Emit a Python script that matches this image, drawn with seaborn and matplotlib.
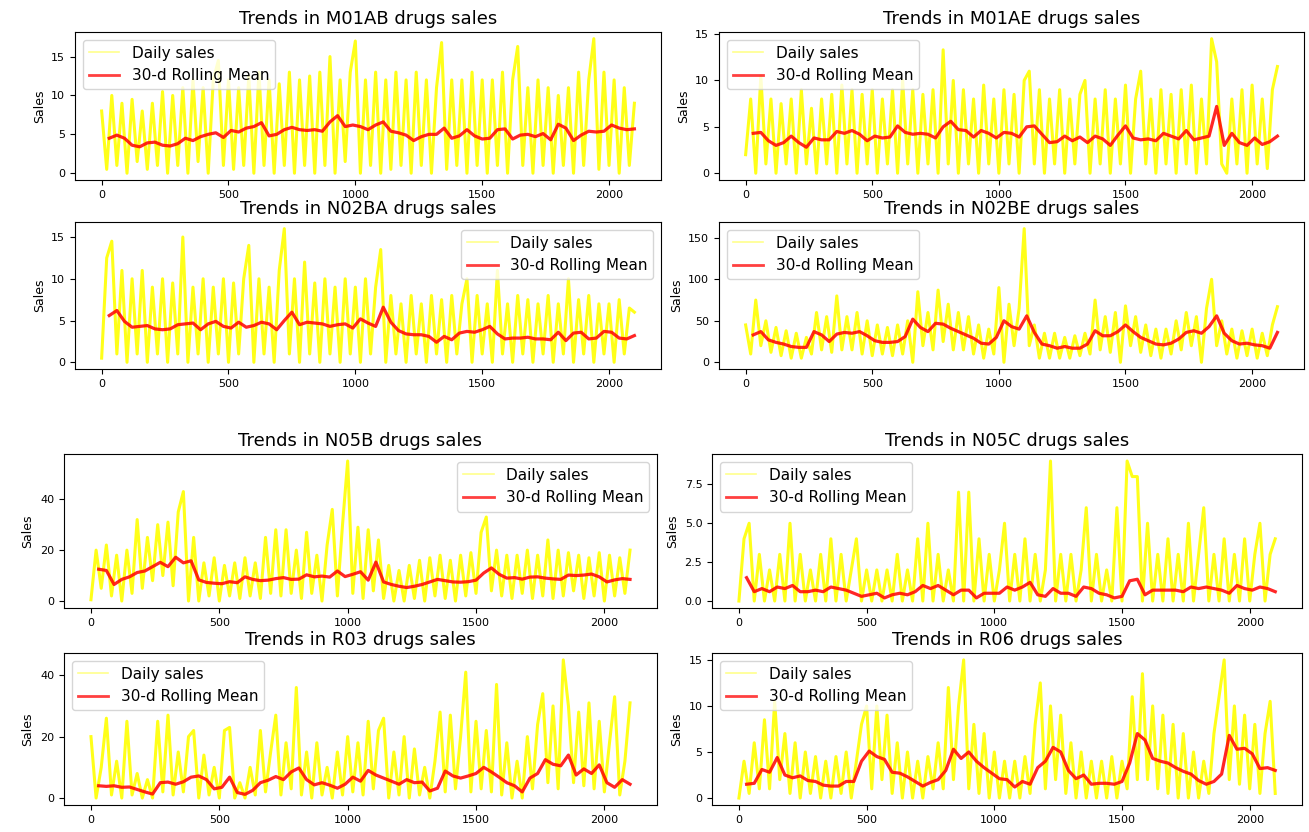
import numpy as np
import matplotlib
matplotlib.use("Agg")
import matplotlib.pyplot as plt
import seaborn as sns

drugs = ['M01AB', 'M01AE', 'N02BA', 'N02BE', 'N05B', 'N05C', 'R03', 'R06']

# daily sales, one reading every 20 days (tops / bottoms of the yellow band)
m01ab_daily = [8, 0.5, 10, 1, 9, 0, 9.5, 1.5, 8, 0.5,
               9, 1, 10.5, 0, 10, 1, 11, 0, 12, 1.5,
               11, 0, 12, 14.5, 1, 12, 0.5, 11, 1, 12.5,
               0, 13, 1, 12, 0, 11.5, 1, 13, 0, 12,
               1, 12.5, 0, 13, 1, 15, 0, 12, 1.5, 13,
               17, 0, 12, 1, 13, 0, 12, 0.5, 13, 1,
               12, 0, 13, 1, 12, 0, 11, 16.8, 0.5, 12,
               1, 12, 0, 13, 1, 12, 0, 12, 1, 13,
               0, 12, 16.3, 1, 11, 0, 12, 1, 11, 0,
               10, 1, 11, 0, 13, 1, 12, 17.3, 0.5, 13,
               1, 12, 0, 11, 1, 9]
m01ae_daily = [2, 8, 0, 10.5, 1, 8, 0, 7.5, 1, 8,
               0, 9, 1, 7, 0, 8, 1, 8.5, 0, 9.5,
               1, 9, 0, 8.5, 1, 9, 0, 8, 1, 9,
               0, 10, 1, 9, 0, 8.5, 1, 9, 0, 13.3,
               1, 10, 0, 9, 1, 8, 0, 9.5, 1, 8,
               0, 9, 1, 8.5, 0, 10, 11, 1, 9, 0,
               8, 1, 9, 0, 8, 1, 8.5, 10, 0, 8,
               1, 9, 0, 8, 1, 9.5, 0, 8, 11, 1,
               8, 0, 9, 1, 8.5, 0, 9, 1, 9.5, 0,
               8, 1, 14.5, 12, 1, 0, 8, 1, 9, 0,
               9.5, 1, 8, 0.5, 9, 11.5]
n02ba_daily = [0.5, 12.5, 14.5, 1, 11, 0, 10, 1, 11, 0,
               9, 1, 10, 0, 9.5, 1, 15, 0, 9, 1,
               10, 0, 9, 1, 10, 0, 9.5, 1, 10, 14,
               0, 10, 1, 9, 0, 11, 16, 1, 10, 0,
               12, 1, 9.5, 0, 10, 1, 9, 0, 10, 1,
               9, 0, 10, 1, 9, 13.5, 0, 8, 1, 7,
               0, 8, 1, 7, 0, 8, 1, 7.5, 0, 8,
               1, 7, 10, 0, 8, 1, 7, 0, 11, 1,
               7, 0, 8, 1, 7.5, 0, 7, 1, 8, 0,
               7, 1, 10, 0, 7.5, 1, 8, 0, 7, 1,
               7, 0, 7.5, 1, 6.5, 6]
n02be_daily = [45, 10, 75, 20, 50, 12, 42, 8, 38, 5,
               35, 5, 30, 10, 60, 15, 55, 12, 80, 15,
               55, 15, 60, 10, 50, 8, 45, 10, 42, 8,
               45, 10, 50, 0, 85, 20, 60, 15, 87, 25,
               70, 15, 60, 15, 55, 10, 45, 5, 40, 10,
               90, 0, 70, 20, 65, 161, 20, 45, 5, 35,
               5, 35, 5, 30, 5, 32, 8, 35, 10, 75,
               15, 55, 12, 60, 0, 68, 20, 55, 12, 45,
               8, 40, 5, 40, 10, 50, 15, 60, 20, 55,
               0, 65, 100, 20, 50, 10, 40, 5, 38, 8,
               40, 5, 35, 8, 45, 67]
n05b_daily = [0.5, 20, 5, 22, 2, 18, 0, 20, 3, 32,
              5, 25, 8, 30, 10, 31, 6, 35, 43, 0,
              25, 0, 15, 2, 17, 0, 14, 2, 15, 1,
              17, 2, 15, 1, 25, 3, 28, 2, 28, 3,
              20, 1, 27, 3, 18, 0, 22, 36, 2, 30,
              55, 3, 29, 1, 28, 4, 24, 1, 14, 0,
              12, 0, 14, 1, 16, 0, 17, 2, 18, 1,
              16, 0, 18, 2, 19, 3, 27, 33, 4, 20,
              2, 18, 1, 18, 3, 20, 1, 18, 2, 24,
              1, 20, 2, 19, 4, 18, 1, 17, 2, 19,
              0, 18, 2, 17, 3, 20]
n05c_daily = [0, 4, 5, 0, 3, 0, 2, 0, 3, 0,
              5, 0, 3, 0, 2, 0, 3, 0, 4, 0,
              3, 0, 2, 4, 0, 2, 0, 2, 0, 2,
              0, 3, 0, 2, 0, 4, 0, 5, 0, 3,
              0, 2, 0, 7, 0, 7, 0, 4, 0, 3,
              0, 2, 5, 0, 3, 0, 4, 0, 3, 0,
              2, 9, 0, 3, 0, 3, 0, 2, 6, 0,
              3, 0, 2, 0, 6, 0, 9, 8, 8, 0,
              5, 0, 3, 0, 4, 0, 3, 0, 5, 0,
              3, 6, 0, 3, 0, 4, 0, 3, 0, 4,
              0, 3, 5, 0, 3, 4]
r03_daily = [20, 0, 10, 26, 1, 12, 0, 25, 1, 8,
             0, 6, 0, 25, 2, 27, 1, 15, 2, 20,
             22, 0, 14, 1, 10, 0, 22, 23, 0, 5,
             0, 10, 1, 22, 2, 15, 27, 1, 18, 3,
             36, 1, 15, 0, 18, 1, 10, 0, 15, 1,
             20, 2, 18, 1, 25, 3, 22, 26, 0, 15,
             1, 20, 0, 16, 1, 10, 0, 12, 28, 2,
             27, 3, 20, 41, 2, 25, 3, 22, 2, 37,
             1, 18, 0, 12, 0, 20, 3, 24, 34, 5,
             30, 3, 45, 30, 5, 28, 4, 31, 3, 25,
             2, 18, 33, 1, 12, 31]
r06_daily = [0, 4, 0.5, 6, 1, 8.5, 1, 10.5, 2, 7,
             0.5, 6, 0, 5, 0.5, 4.5, 0, 4, 0, 4.5,
             0.5, 5, 0, 4, 8, 10, 1, 10, 2, 9,
             0.5, 6, 0, 5, 0, 4, 0, 4.5, 1, 6,
             1, 12, 2, 10, 15, 1, 8, 0.5, 7, 0,
             5, 0, 4, 0, 4, 0, 4.5, 0.5, 8, 12.5,
             1, 10, 2, 9, 0.5, 6, 0, 5, 0, 4,
             0, 4, 0, 4.5, 0, 4, 1, 11, 2, 13.5,
             2, 10, 1, 9, 0.5, 8, 0, 7, 0, 5,
             0, 4, 0.5, 7, 11, 15, 2, 10, 1.5, 9,
             1, 8, 0.5, 7, 10.5, 0.5]

# 30-day rolling mean, one reading every 30 days starting at day 30
m01ab_roll = [4.5, 4.9, 4.5, 3.6, 3.4, 3.9, 4.0, 3.6, 3.5, 3.8,
              4.5, 4.2, 4.7, 5.0, 5.2, 4.6, 5.5, 5.3, 5.8, 6.0,
              6.5, 4.8, 5.0, 5.6, 5.9, 5.6, 5.5, 5.6, 5.4, 6.6,
              7.4, 6.0, 6.2, 6.0, 5.6, 6.2, 6.6, 5.4, 5.2, 4.9,
              4.2, 4.7, 5.0, 5.0, 5.8, 4.5, 4.8, 5.6, 4.8, 4.4,
              4.5, 5.6, 5.7, 4.4, 4.9, 5.0, 4.7, 5.1, 4.3, 6.3,
              5.8, 4.2, 4.9, 5.4, 5.3, 5.4, 6.2, 5.8, 5.6, 5.7]
m01ae_roll = [4.3, 4.4, 3.5, 3.0, 3.3, 4.0, 3.3, 2.8, 3.8, 3.6,
              3.6, 4.5, 4.3, 4.6, 4.2, 3.5, 4.0, 3.8, 3.9, 5.1,
              4.4, 4.2, 4.3, 4.2, 3.8, 5.0, 5.6, 4.7, 4.6, 3.9,
              4.6, 4.3, 3.8, 4.4, 4.3, 3.9, 5.0, 5.1, 4.2, 3.3,
              3.4, 4.0, 3.5, 3.9, 3.3, 4.0, 3.7, 3.0, 4.1, 5.1,
              3.8, 3.6, 3.7, 3.5, 4.3, 4.0, 3.7, 4.6, 3.6, 3.8,
              4.0, 7.2, 3.0, 4.3, 3.3, 3.0, 3.8, 3.1, 3.4, 4.0]
n02ba_roll = [5.6, 6.2, 4.9, 4.2, 4.3, 4.4, 4.0, 3.9, 4.0, 4.5,
              4.6, 4.7, 3.9, 4.6, 4.9, 4.3, 4.1, 4.8, 4.2, 4.4,
              4.8, 4.6, 3.9, 5.0, 6.0, 4.5, 4.8, 4.7, 4.6, 4.3,
              4.5, 4.6, 4.1, 5.2, 4.7, 4.3, 6.6, 4.8, 3.8, 3.4,
              3.3, 3.3, 3.1, 2.4, 3.1, 2.7, 3.5, 3.7, 3.6, 3.9,
              4.3, 3.4, 2.8, 2.9, 2.9, 3.0, 2.8, 2.8, 2.7, 3.6,
              2.6, 3.5, 3.6, 2.8, 2.9, 3.7, 3.6, 2.9, 2.8, 3.2]
n02be_roll = [33, 37, 27, 24, 22, 19, 18, 18, 37, 33,
              25, 34, 36, 35, 37, 32, 26, 24, 24, 25,
              31, 52, 42, 37, 47, 46, 41, 37, 33, 29,
              23, 22, 30, 50, 43, 40, 56, 36, 22, 20,
              17, 19, 17, 17, 22, 38, 32, 32, 37, 45,
              37, 30, 26, 22, 21, 23, 28, 36, 38, 35,
              43, 56, 35, 26, 22, 23, 21, 20, 17, 36]
n05b_roll = [12.5, 12, 6.5, 8.5, 9.5, 11.2, 11.8, 13.5, 15.2, 13.5,
             17.2, 15, 15.8, 8.3, 7.3, 7, 6.8, 7.6, 7.2, 9.5,
             8.5, 8, 8.2, 8.8, 9.2, 8.5, 8.6, 10.3, 9.5, 9.8,
             9.4, 11.8, 9.6, 10.5, 11.5, 8.2, 15.3, 7.5, 6.5, 5.8,
             5.3, 5.8, 6.5, 7.5, 8.5, 8, 7.5, 7.4, 7.6, 8.2,
             11, 13, 10.5, 9, 9.2, 8.6, 9.4, 9.5, 9, 8.7,
             8.5, 10.2, 10, 10.2, 10.6, 9.5, 7.5, 8.3, 8.8, 8.5]
n05c_roll = [1.5, 0.6, 0.8, 0.6, 0.9, 0.8, 1.0, 0.6, 0.6, 0.7,
             0.6, 0.9, 0.8, 0.7, 0.5, 0.3, 0.4, 0.5, 0.2, 0.4,
             0.5, 0.4, 0.6, 1.0, 0.8, 1.0, 0.7, 0.4, 0.7, 0.7,
             0.2, 0.5, 0.5, 0.5, 0.9, 0.7, 0.9, 1.2, 0.4, 0.3,
             0.8, 0.5, 0.5, 0.3, 0.9, 0.8, 0.5, 0.4, 0.2, 0.3,
             1.3, 1.4, 0.4, 0.7, 0.7, 0.7, 0.7, 0.6, 0.9, 0.8,
             0.9, 0.8, 0.7, 0.5, 1.0, 0.8, 0.7, 0.9, 0.8, 0.6]
r03_roll = [4.0, 3.8, 4.0, 3.5, 3.6, 2.8, 2.0, 1.3, 5.0, 5.2,
            4.5, 5.3, 6.8, 7.2, 6.0, 3.0, 3.5, 6.8, 1.8, 1.2,
            2.5, 5.0, 5.8, 7.0, 6.0, 8.5, 9.8, 6.0, 4.3, 5.0,
            4.2, 3.2, 4.5, 6.8, 5.5, 9.0, 7.5, 6.5, 5.5, 4.5,
            6.0, 5.0, 5.2, 2.3, 3.2, 8.8, 7.2, 6.5, 7.2, 8.0,
            10.0, 8.5, 6.8, 5.0, 4.0, 2.0, 6.5, 8.0, 12.5, 11.0,
            10.5, 14.0, 7.5, 9.5, 8.0, 10.8, 5.0, 3.5, 6.0, 4.5]
r06_roll = [1.5, 1.6, 3.1, 2.8, 4.4, 2.5, 2.2, 2.4, 1.9, 1.8,
            1.4, 1.3, 1.3, 1.8, 1.8, 4.0, 5.1, 4.5, 4.2, 2.8,
            2.7, 2.3, 1.8, 1.3, 1.7, 2.0, 3.0, 5.3, 4.3, 5.0,
            4.0, 3.3, 2.7, 2.1, 2.0, 1.2, 1.8, 1.5, 3.3, 4.0,
            5.5, 5.0, 3.0, 2.1, 2.5, 1.5, 1.6, 1.6, 1.5, 1.8,
            3.8, 7.0, 6.3, 4.3, 4.0, 3.8, 3.3, 2.9, 2.6, 1.9,
            1.5, 1.8, 2.6, 6.8, 5.3, 5.4, 4.8, 3.2, 3.3, 3.0]

daily = [m01ab_daily, m01ae_daily, n02ba_daily, n02be_daily,
         n05b_daily, n05c_daily, r03_daily, r06_daily]
rolling = [m01ab_roll, m01ae_roll, n02ba_roll, n02be_roll,
           n05b_roll, n05c_roll, r03_roll, r06_roll]

yticks = [[0, 5, 10, 15], [0, 5, 10, 15], [0, 5, 10, 15], [0, 50, 100, 150],
          [0, 20, 40], [0, 2.5, 5.0, 7.5], [0, 20, 40], [0, 5, 10, 15]]
xticks = [0, 500, 1000, 1500, 2000]

legend_loc = ['upper left', 'upper left', 'upper right', 'upper left',
              'upper right', 'upper left', 'upper left', 'upper left']

# two 2x2 figures stacked in one image
rects = [[0.0573, 0.7837, 0.4477, 0.1779], [0.5493, 0.7837, 0.4469, 0.1779],
         [0.0573, 0.5565, 0.4477, 0.1767], [0.5493, 0.5565, 0.4469, 0.1767],
         [0.0489, 0.2692, 0.4530, 0.1851], [0.5440, 0.2692, 0.4507, 0.1851],
         [0.0489, 0.0325, 0.4530, 0.1827], [0.5440, 0.0325, 0.4507, 0.1827]]

fig = plt.figure(figsize=(13.09, 8.32), dpi=100)

for i, d in enumerate(drugs):
    ax = fig.add_axes(rects[i])
    day_d = np.arange(len(daily[i])) * 20
    day_r = 30 + np.arange(len(rolling[i])) * 30
    sns.lineplot(x=day_d, y=daily[i], ax=ax, color='yellow', alpha=0.9,
                 linewidth=2.2, label='Daily sales')
    sns.lineplot(x=day_r, y=rolling[i], ax=ax, color='red', alpha=0.85,
                 linewidth=2.3, label='30-d Rolling Mean')
    ax.set_title(f'Trends in {d} drugs sales', fontsize=13)
    ax.set_ylabel('Sales', fontsize=9)
    ax.set_xlabel('')
    ax.set_xticks(xticks)
    ax.set_yticks(yticks[i])
    ax.tick_params(labelsize=8)
    leg = ax.legend(loc=legend_loc[i], fontsize=11)
    # legend keys: thin pale yellow, medium red
    leg.get_lines()[0].set_linewidth(1.2)
    leg.get_lines()[0].set_alpha(0.45)
    leg.get_lines()[1].set_linewidth(2)
    leg.get_lines()[1].set_alpha(0.75)

fig.savefig('out.png', dpi=100)
